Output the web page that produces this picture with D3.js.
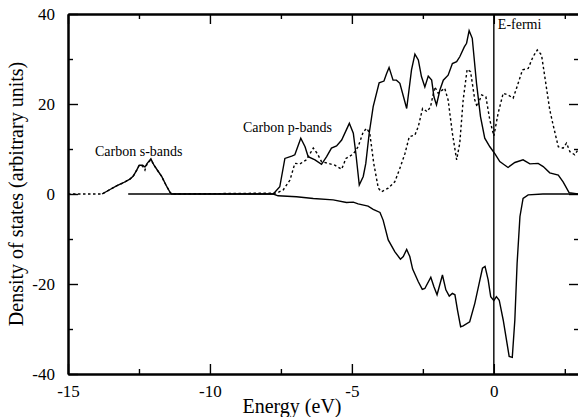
<!DOCTYPE html>
<html>
<head>
<meta charset="utf-8">
<script src="https://cdn.jsdelivr.net/npm/d3@7"></script>
<style>
  body { margin: 0; background: #fff; }
  svg { display: block; }
  .axis path, .axis line { stroke: #000; }
</style>
</head>
<body>
<div id="dos"></div>
<script>

// Density of states plot, carbon bands

const width = 578;
const height = 417;
const margin = {left: 68, right: -1, top: 14, bottom: 43};
const serif = "'Liberation Serif', 'Times New Roman', Times, serif";

// tick values
const xMajorTicks = [-15, -10, -5, 0];
const xMinorTicks = [-12.5, -7.5, -2.5, 2.5];
const yMajorTicks = [-40, -20, 0, 20, 40];
const yMinorTicks = [-30, -10, 10, 30];

// [energy (eV), DOS]
// solid curve, positive
const dosUp = [
  [-13.8, 0], [-13.52, 1.0], [-13.29, 1.8], [-13.05, 2.5], [-12.82, 3.3], [-12.70, 4.0],
  [-12.58, 5.3], [-12.49, 6.4], [-12.37, 6.4], [-12.29, 6.0], [-12.21, 6.8], [-12.08, 7.8],
  [-11.97, 6.4], [-11.82, 5.0], [-11.70, 3.9], [-11.55, 2.0], [-11.41, 0.4], [-11.35, 0],
  [-7.77, 0], [-7.54, 1.6], [-7.36, 7.9], [-7.12, 8.4], [-7.01, 8.7], [-6.80, 12.4],
  [-6.65, 10.5], [-6.54, 8.3], [-6.30, 7.6], [-6.07, 6.6], [-5.89, 8.3], [-5.72, 10.2],
  [-5.54, 10.7], [-5.36, 12.0], [-5.09, 15.7], [-4.95, 13.5], [-4.86, 9.0], [-4.74, 2.0],
  [-4.60, 3.9], [-4.51, 6.8], [-4.39, 13.5], [-4.25, 19.4], [-4.04, 24.7], [-3.87, 25.1],
  [-3.78, 26.7], [-3.69, 28.1], [-3.55, 25.3], [-3.43, 25.3], [-3.31, 24.6], [-3.07, 19.0],
  [-2.90, 27.6], [-2.78, 31.1], [-2.66, 29.8], [-2.55, 26.1], [-2.43, 23.8], [-2.31, 26.2],
  [-2.19, 25.3], [-2.11, 21.6], [-2.02, 19.8], [-1.90, 23.1], [-1.78, 25.3], [-1.61, 26.4],
  [-1.46, 29.0], [-1.31, 29.4], [-1.20, 30.5], [-1.04, 32.7], [-0.96, 33.5], [-0.87, 36.3],
  [-0.76, 34.6], [-0.61, 24.6], [-0.47, 17.2], [-0.32, 12.4], [-0.14, 10.5], [0.04, 8.9],
  [0.21, 7.2], [0.50, 5.9], [0.74, 7.0], [1.03, 7.6], [1.27, 6.7], [1.56, 6.8],
  [1.74, 6.1], [1.97, 4.7], [2.27, 4.2], [2.44, 2.7], [2.65, 0.3], [3.0, 0]
];

// dotted curve
const dosDotted = [
  [-15, 0], [-13.8, 0], [-13.52, 1.0], [-13.29, 1.8], [-13.05, 2.5], [-12.82, 3.3],
  [-12.70, 4.0], [-12.58, 5.3], [-12.49, 6.4], [-12.37, 6.2], [-12.29, 5.3], [-12.21, 6.8],
  [-12.08, 7.6], [-11.97, 6.4], [-11.82, 5.0], [-11.70, 3.9], [-11.55, 2.0], [-11.41, 0.4],
  [-11.35, 0], [-7.65, 0.2], [-7.42, 0.9], [-7.18, 3.1], [-7.01, 6.8], [-6.83, 6.7],
  [-6.60, 7.6], [-6.36, 10.2], [-6.22, 9.0], [-6.07, 7.2], [-5.83, 6.8], [-5.60, 6.4],
  [-5.36, 5.5], [-5.21, 7.9], [-4.95, 8.9], [-4.78, 10.5], [-4.60, 13.8], [-4.48, 14.6],
  [-4.37, 13.5], [-4.23, 6.8], [-4.07, 1.3], [-3.96, 0.5], [-3.72, 1.3], [-3.49, 2.7],
  [-3.31, 5.7], [-3.13, 9.0], [-2.98, 12.7], [-2.78, 13.1], [-2.66, 15.0], [-2.51, 19.0],
  [-2.35, 18.3], [-2.23, 19.4], [-2.08, 23.8], [-1.96, 22.4], [-1.73, 23.5], [-1.61, 20.9],
  [-1.46, 13.5], [-1.31, 7.6], [-1.20, 11.3], [-1.08, 20.9], [-0.94, 27.7], [-0.82, 27.2],
  [-0.67, 20.9], [-0.59, 19.4], [-0.43, 22.0], [-0.28, 21.6], [-0.14, 16.4], [0.0, 12.9],
  [0.15, 17.9], [0.33, 22.4], [0.50, 22.0], [0.68, 21.3], [0.80, 23.5], [1.01, 27.6],
  [1.21, 27.9], [1.38, 30.5], [1.53, 32.0], [1.68, 30.9], [1.83, 24.6], [1.97, 18.7],
  [2.09, 15.3], [2.27, 10.5], [2.44, 10.2], [2.56, 11.3], [2.68, 9.4], [2.85, 8.7],
  [2.96, 9.8], [3.0, 9.8]
];

// solid curve, negative
const dosDown = [
  [-12.88, 0], [-7.77, 0], [-7.6, -0.4], [-6.95, -0.6], [-6.36, -1.0], [-5.66, -1.3],
  [-5.19, -1.9], [-4.95, -1.8], [-4.78, -2.2], [-4.43, -2.7], [-4.25, -3.4], [-4.01, -4.1],
  [-3.90, -5.8], [-3.72, -10.2], [-3.49, -12.8], [-3.29, -14.5], [-3.19, -13.9], [-3.07, -12.3],
  [-2.96, -13.9], [-2.86, -16.7], [-2.66, -19.5], [-2.52, -21.2], [-2.43, -21.0], [-2.22, -18.5],
  [-2.11, -20.6], [-2.00, -22.4], [-1.81, -18.0], [-1.69, -21.3], [-1.57, -22.7], [-1.46, -22.1],
  [-1.37, -22.4], [-1.28, -25.8], [-1.17, -29.5], [-1.08, -29.3], [-0.85, -28.4], [-0.67, -24.3],
  [-0.49, -19.1], [-0.40, -16.5], [-0.31, -16.1], [-0.20, -19.1], [-0.11, -22.8], [0.0, -23.7],
  [0.09, -22.8], [0.19, -23.6], [0.33, -28.0], [0.54, -36.1], [0.65, -36.3], [0.74, -28.0],
  [0.82, -15.4], [0.92, -5.0], [1.03, -1.0], [1.21, -0.2], [1.73, 0], [3.0, 0]
];

const svg = d3.select("#dos")
  .append("svg")
  .attr("width", width)
  .attr("height", height)
  .attr("font-family", serif);

// scales
const xScale = d3.scaleLinear()
  .domain([-15, 3])
  .range([margin.left, width - margin.right]);

const yScale = d3.scaleLinear()
  .domain([-40, 40])
  .range([height - margin.bottom, margin.top]);

const x0 = xScale.range()[0], x1 = xScale.range()[1];
const y0 = yScale.range()[0], y1 = yScale.range()[1];

svg.append("clipPath").attr("id", "plot-clip")
  .append("rect")
  .attr("x", x0).attr("y", y1)
  .attr("width", x1 - x0).attr("height", y0 - y1);

/*
  Curves
*/
const line = d3.line()
  .x(d => xScale(d[0]))
  .y(d => yScale(d[1]));

const curves = svg.append("g").attr("clip-path", "url(#plot-clip)");

curves.append("path")
  .datum(dosDotted)
  .attr("d", line)
  .attr("fill", "none")
  .attr("stroke", "#000")
  .attr("stroke-width", 1.4)
  .attr("stroke-dasharray", "2.5,2.5");

curves.append("path")
  .datum(dosUp)
  .attr("d", line)
  .attr("fill", "none")
  .attr("stroke", "#000")
  .attr("stroke-width", 1.4);

curves.append("path")
  .datum(dosDown)
  .attr("d", line)
  .attr("fill", "none")
  .attr("stroke", "#000")
  .attr("stroke-width", 1.4);

// Fermi level
svg.append("line")
  .attr("x1", xScale(0)).attr("x2", xScale(0))
  .attr("y1", y0).attr("y2", y1)
  .attr("stroke", "#000")
  .attr("stroke-width", 1.4);

/*
  Axes (ticks point inward on all four sides)
*/
const fontSize = "17px";
const plain = d => String(d);   // keep the ascii hyphen as minus

svg.append("g")
  .attr("class", "axis")
  .attr("transform", `translate(0,${y0})`)
  .call(d3.axisBottom(xScale).tickValues(xMajorTicks).tickSize(-10).tickSizeOuter(0).tickPadding(11).tickFormat(plain))
  .attr("font-size", fontSize)
  .attr("font-family", serif);

svg.append("g")
  .attr("class", "axis")
  .attr("transform", `translate(0,${y0})`)
  .call(d3.axisBottom(xScale).tickValues(xMinorTicks).tickSize(-5).tickSizeOuter(0).tickFormat(""));

svg.append("g")
  .attr("class", "axis")
  .attr("transform", `translate(0,${y1})`)
  .call(d3.axisTop(xScale).tickValues(xMajorTicks).tickSize(-10).tickSizeOuter(0).tickFormat(""));

svg.append("g")
  .attr("class", "axis")
  .attr("transform", `translate(0,${y1})`)
  .call(d3.axisTop(xScale).tickValues(xMinorTicks).tickSize(-5).tickSizeOuter(0).tickFormat(""));

svg.append("g")
  .attr("class", "axis")
  .attr("transform", `translate(${x0},0)`)
  .call(d3.axisLeft(yScale).tickValues(yMajorTicks).tickSize(-10).tickSizeOuter(0).tickPadding(13).tickFormat(plain))
  .attr("font-size", fontSize)
  .attr("font-family", serif);

svg.append("g")
  .attr("class", "axis")
  .attr("transform", `translate(${x0},0)`)
  .call(d3.axisLeft(yScale).tickValues(yMinorTicks).tickSize(-5).tickSizeOuter(0).tickFormat(""));

svg.append("g")
  .attr("class", "axis")
  .attr("transform", `translate(${x1},0)`)
  .call(d3.axisRight(yScale).tickValues(yMajorTicks).tickSize(-10).tickSizeOuter(0).tickFormat(""));

svg.append("g")
  .attr("class", "axis")
  .attr("transform", `translate(${x1},0)`)
  .call(d3.axisRight(yScale).tickValues(yMinorTicks).tickSize(-5).tickSizeOuter(0).tickFormat(""));

svg.selectAll(".axis path.domain").attr("stroke-width", 2);
svg.selectAll(".axis .tick line").attr("stroke-width", 1.4);
svg.selectAll(".axis .tick text").attr("fill", "#000");

/*
  Titles and labels
*/
svg.append("text")
  .attr("x", 292)
  .attr("y", 413)
  .attr("text-anchor", "middle")
  .attr("font-size", "20px")
  .text("Energy (eV)");

svg.append("text")
  .attr("transform", `translate(23,${(y0 + y1) / 2}) rotate(-90)`)
  .attr("text-anchor", "middle")
  .attr("font-size", "20px")
  .text("Density of states (arbitrary units)");

svg.append("text")
  .attr("x", 95).attr("y", 156)
  .attr("font-size", "14px")
  .text("Carbon s-bands");

svg.append("text")
  .attr("x", 243).attr("y", 132)
  .attr("font-size", "14px")
  .text("Carbon p-bands");

svg.append("text")
  .attr("x", xScale(0) + 4).attr("y", 29)
  .attr("font-size", "14px")
  .text("E-fermi");

</script>
</body>
</html>
